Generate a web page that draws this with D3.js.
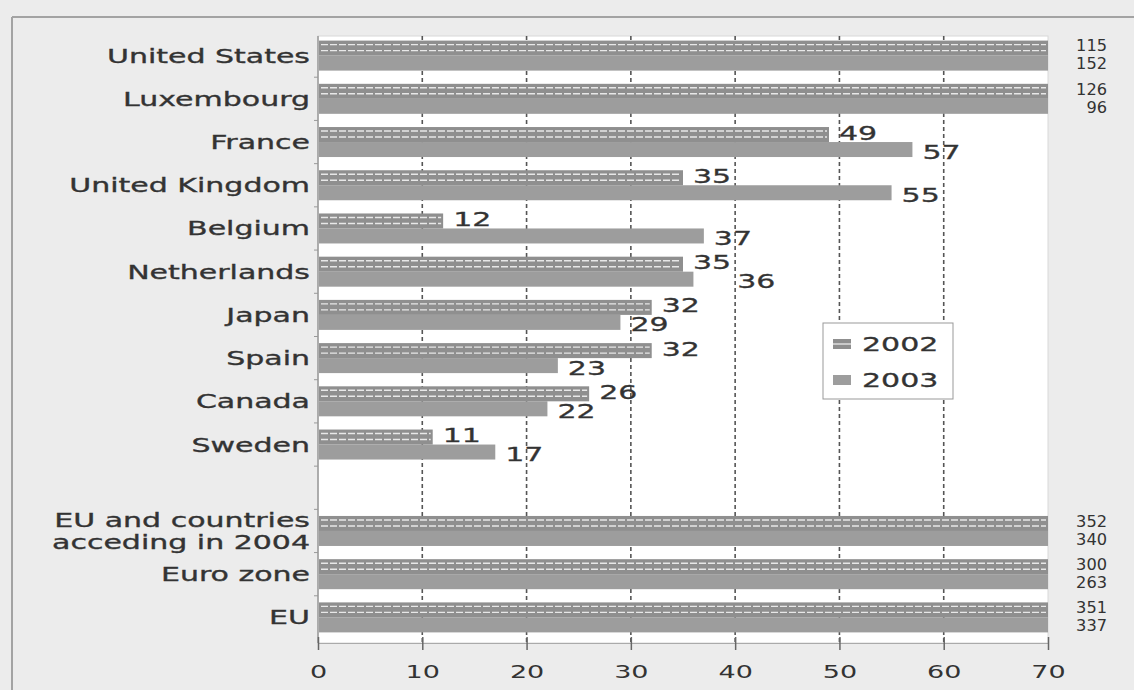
<!DOCTYPE html>
<html>
<head>
<meta charset="utf-8">
<script src="https://cdnjs.cloudflare.com/ajax/libs/d3/7.8.5/d3.min.js"></script>
<style>
  body { margin: 0; background: #ececec; }
  svg { display: block; }
  text { font-family: "DejaVu Sans", Verdana, sans-serif; fill: #333; }
</style>
</head>
<body>
<svg id="chart" width="1134" height="690"></svg>
<script>
// categories top to bottom, "" is the empty spacer row
const categories = ["United States", "Luxembourg", "France", "United Kingdom", "Belgium",
    "Netherlands", "Japan", "Spain", "Canada", "Sweden", "",
    "EU and countries\nacceding in 2004", "Euro zone", "EU"];
const values2002 = [115, 126, 49, 35, 12, 35, 32, 32, 26, 11, null, 352, 300, 351];
const values2003 = [152, 96, 57, 55, 37, 36, 29, 23, 22, 17, null, 340, 263, 337];
const years = ["2002", "2003"];
const xTicks = [0, 10, 20, 30, 40, 50, 60, 70];

const width = 1134;
const height = 690;
const svg = d3.select('#chart');

const x = d3.scaleLinear().domain([0, 70]).range([318, 1048]).clamp(true);
const y = d3.scaleBand().domain(categories).range([34, 639]);
const plotTop = 36, plotBottom = 643;
const barH = 15;
const stretch = 1.5; // the reference text is wide
const valueFont = 20;

// outer frame
svg.append('line').attr('x1', 12).attr('x2', width).attr('y1', 17).attr('y2', 17)
    .attr('stroke', '#a3a3a3').attr('stroke-width', 2);
svg.append('line').attr('x1', 12).attr('x2', 12).attr('y1', 17).attr('y2', height)
    .attr('stroke', '#a3a3a3').attr('stroke-width', 2);

// white plot area
svg.append('rect')
    .attr('x', x(0)).attr('y', plotTop)
    .attr('width', x(70) - x(0)).attr('height', plotBottom - plotTop)
    .attr('fill', '#fff').attr('stroke', '#d8d8d8');

// dashed gridlines
svg.append('g').selectAll('line')
    .data(xTicks.filter(d => d > 0 && d < 70))
    .join('line')
    .attr('x1', d => x(d)).attr('x2', d => x(d))
    .attr('y1', plotTop).attr('y2', plotBottom)
    .attr('stroke', '#555').attr('stroke-width', 1.6)
    .attr('stroke-dasharray', '4,3');

// left axis line and small ticks at band edges
svg.append('line').attr('x1', x(0)).attr('x2', x(0)).attr('y1', plotTop).attr('y2', plotBottom)
    .attr('stroke', '#999').attr('stroke-width', 1.5);
svg.append('g').selectAll('line')
    .data(categories.slice(1))
    .join('line')
    .attr('x1', x(0) - 4).attr('x2', x(0))
    .attr('y1', d => y(d)).attr('y2', d => y(d))
    .attr('stroke', '#999');

// bottom axis
const xAxis = svg.append('g')
    .attr('transform', `translate(0,${plotBottom})`)
    .call(d3.axisBottom(x).tickValues(xTicks).tickSize(7).tickPadding(15));
xAxis.select('.domain').attr('stroke', '#aaa');
xAxis.selectAll('.tick line').attr('stroke', '#666').attr('stroke-width', 1.5).attr('y1', -6);
xAxis.selectAll('.tick text')
    .attr('font-size', 18).attr('fill', '#555')
    .attr('font-family', '"DejaVu Sans", sans-serif')
    .attr('transform', `scale(${stretch},1)`)
    .attr('x', 0);

const rows = categories.map((c, i) => ({ c, v02: values2002[i], v03: values2003[i] }))
    .filter(d => d.v02 !== null);
const center = d => y(d.c) + y.bandwidth() / 2;

// 2003 bars (solid)
svg.append('g').selectAll('rect')
    .data(rows)
    .join('rect')
    .attr('x', x(0) + 1)
    .attr('y', d => center(d))
    .attr('width', d => x(d.v03) - x(0) - 1)
    .attr('height', barH)
    .attr('fill', '#9d9d9d');

// 2002 bars (grey with light dashes)
const bars02 = svg.append('g').selectAll('g')
    .data(rows)
    .join('g');
bars02.append('rect')
    .attr('x', x(0) + 1)
    .attr('y', d => center(d) - barH)
    .attr('width', d => x(d.v02) - x(0) - 1)
    .attr('height', barH)
    .attr('fill', '#8f8f8f');
[4, 10].forEach(off => {
    bars02.append('line')
        .attr('x1', x(0) + 3)
        .attr('x2', d => x(d.v02) - 2)
        .attr('y1', d => center(d) - barH + off)
        .attr('y2', d => center(d) - barH + off)
        .attr('stroke', '#e8e8e8').attr('stroke-width', 1.4)
        .attr('stroke-dasharray', '7,2');
});

// value labels
const labelG = svg.append('g');
const digitW = valueFont * 0.636 * stretch;
rows.forEach(d => {
    const cy02 = center(d) - barH / 2 - 2;
    const cy03 = center(d) + barH / 2 + 2;
    if (d.v02 > 70) {
        // values beyond the axis are stacked at the right edge
        [[d.v02, center(d) - 9], [d.v03, center(d) + 9]].forEach(([v, cy]) => {
            labelG.append('text')
                .attr('transform', `translate(${x(70) + 59},${cy}) scale(1.08,1)`)
                .attr('text-anchor', 'end').attr('dominant-baseline', 'central')
                .attr('font-size', 15).attr('fill', '#555')
                .text(v);
        });
        return;
    }
    const x02 = x(d.v02) + 10;
    let x03 = x(d.v03) + 10;
    // keep the 2003 label clear of the 2002 label just above it
    const w02 = String(d.v02).length * digitW;
    if (x03 < x02 + w02 + 4 && x03 + w02 * 0.5 > x02) x03 = x02 + w02 + 6;
    [[d.v02, x02, cy02], [d.v03, x03, cy03]].forEach(([v, lx, cy]) => {
        labelG.append('text')
            .attr('transform', `translate(${lx},${cy}) scale(${stretch},1)`)
            .attr('dominant-baseline', 'central')
            .attr('font-size', valueFont)
            .attr('stroke', '#333').attr('stroke-width', 0.3)
            .text(v);
    });
});

// category labels
const catG = svg.append('g').selectAll('text')
    .data(categories.filter(c => c !== ''))
    .join('text')
    .attr('transform', c => `translate(${x(0) - 8},${y(c) + y.bandwidth() / 2}) scale(${stretch},1)`)
    .attr('text-anchor', 'end')
    .attr('font-size', 20)
    .attr('stroke', '#333').attr('stroke-width', 0.35);
catG.each(function (c) {
    const lines = c.split('\n');
    d3.select(this).selectAll('tspan')
        .data(lines)
        .join('tspan')
        .attr('x', 0)
        .attr('y', (l, i) => (i - (lines.length - 1) / 2) * 22)
        .attr('dy', '0.35em')
        .text(l => l);
});

// legend
const legend = svg.append('g').attr('transform', 'translate(823,323)');
legend.append('rect').attr('width', 130).attr('height', 76)
    .attr('fill', '#fff').attr('stroke', '#999');
years.forEach((yr, i) => {
    const item = legend.append('g').attr('transform', `translate(10,${21 + i * 36})`);
    item.append('rect').attr('x', 0).attr('y', -5).attr('width', 18).attr('height', 10)
        .attr('fill', i === 0 ? '#8f8f8f' : '#9d9d9d');
    if (i === 0) {
        item.append('line').attr('x1', 0).attr('x2', 18).attr('y1', 0).attr('y2', 0)
            .attr('stroke', '#e4e4e4').attr('stroke-width', 1.4);
    }
    item.append('text')
        .attr('transform', `translate(29,0) scale(${stretch},1)`)
        .attr('dominant-baseline', 'central')
        .attr('font-size', 20)
        .attr('stroke', '#333').attr('stroke-width', 0.3)
        .text(yr);
});
</script>
</body>
</html>
